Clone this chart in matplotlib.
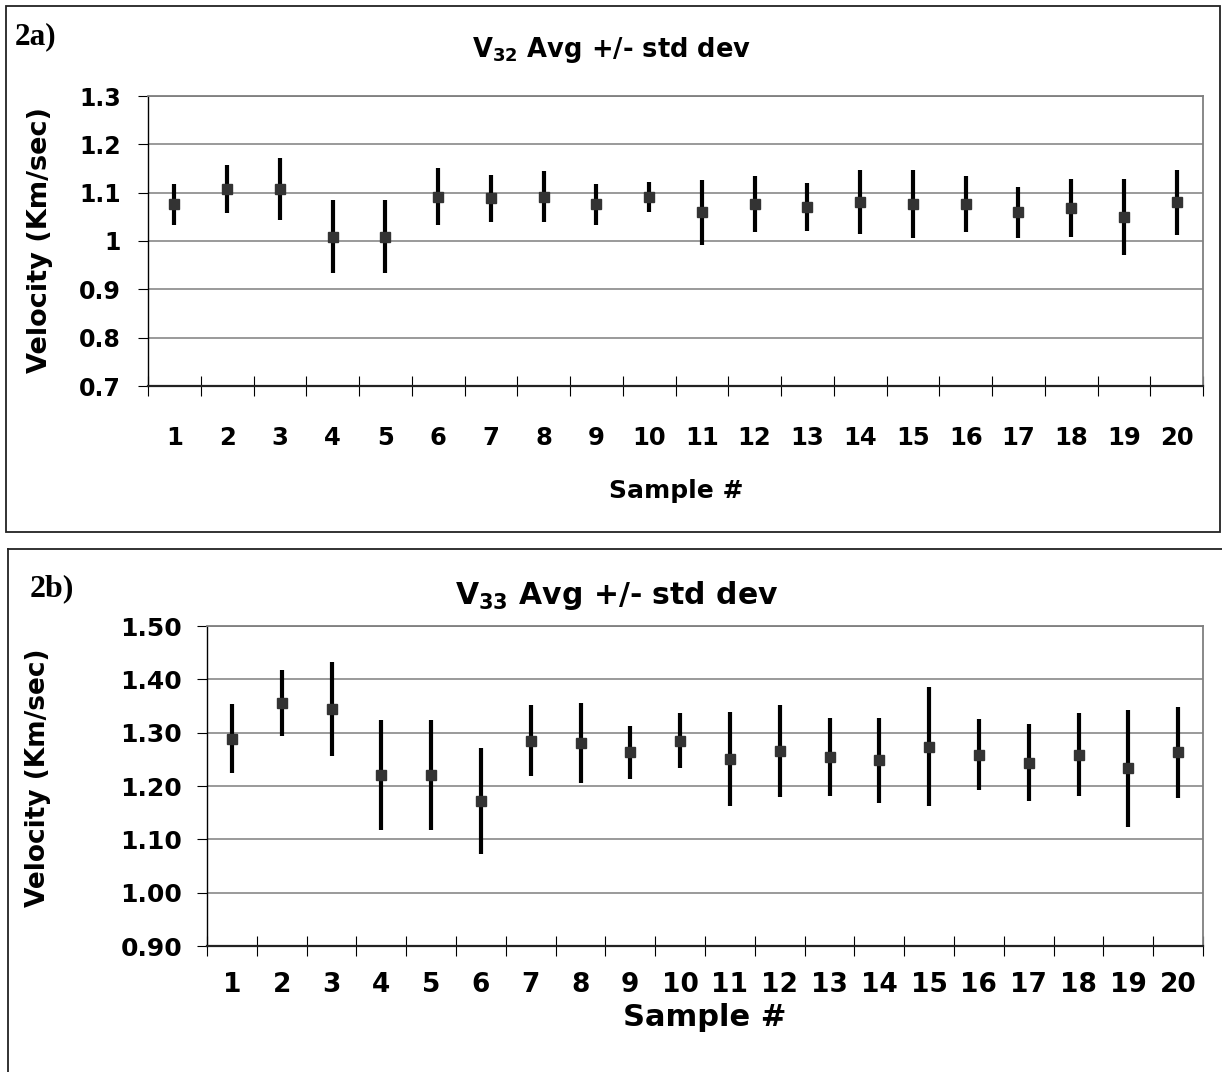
import numpy as np
import matplotlib
matplotlib.use("Agg")
import matplotlib.pyplot as plt
from matplotlib.lines import Line2D
from matplotlib.patches import Rectangle

# data
samples = list(range(1, 21))
tick_labels = [str(s) for s in samples]

v32_avg = [1.076, 1.108, 1.108, 1.009, 1.009, 1.092, 1.088, 1.092, 1.076, 1.092,
           1.059, 1.076, 1.071, 1.080, 1.076, 1.076, 1.059, 1.068, 1.050, 1.080]
v32_std = [0.042, 0.050, 0.064, 0.075, 0.075, 0.058, 0.048, 0.052, 0.042, 0.031,
           0.068, 0.058, 0.050, 0.066, 0.070, 0.058, 0.052, 0.060, 0.078, 0.067]

v33_avg = [1.289, 1.356, 1.345, 1.221, 1.221, 1.172, 1.285, 1.281, 1.263, 1.285,
           1.251, 1.266, 1.255, 1.248, 1.274, 1.259, 1.244, 1.259, 1.233, 1.263]
v33_std = [0.064, 0.062, 0.088, 0.103, 0.103, 0.099, 0.067, 0.075, 0.050, 0.051,
           0.088, 0.086, 0.073, 0.079, 0.112, 0.066, 0.073, 0.077, 0.109, 0.085]

v32_yticks = [0.7, 0.8, 0.9, 1.0, 1.1, 1.2, 1.3]
v32_ylabels = ["0.7", "0.8", "0.9", "1", "1.1", "1.2", "1.3"]
v33_yticks = [0.9, 1.0, 1.1, 1.2, 1.3, 1.4, 1.5]
v33_ylabels = ["%.2f" % v for v in v33_yticks]

plt.rcParams['font.family'] = ['DejaVu Sans']
plt.rcParams['font.weight'] = 'bold'
plt.rcParams['mathtext.default'] = 'bf'

W, H = 1222, 1072
fig = plt.figure(figsize=(W / 100, H / 100), dpi=100)


def fx(px):
    return px / W


def fy(py):
    return 1 - py / H


def panel(rect, avg, std, yticks, ylabels, ytick_fs, xtick_fs, xpad, ypad):
    l, t, r, b = rect
    ax = fig.add_axes([fx(l), fy(b), fx(r) - fx(l), fy(t) - fy(b)])
    ax.errorbar(samples, avg, yerr=std, fmt='s', color='#333333', ms=6.5,
                ecolor='black', elinewidth=3.0, capsize=0, zorder=3)
    ax.set_xlim(0.5, 20.5)
    ax.set_ylim(yticks[0], yticks[-1])
    ax.set_yticks(yticks, labels=ylabels)
    ax.set_xticks(np.arange(0.5, 21, 1), labels=[])
    ax.set_xticks(samples, labels=tick_labels, minor=True)
    ax.tick_params(axis='x', which='major', direction='inout', length=14.5,
                   width=0.8, color='black')
    ax.tick_params(axis='x', which='minor', length=0, pad=xpad,
                   labelsize=xtick_fs)
    ax.tick_params(axis='y', direction='out', length=7.5, width=0.8,
                   pad=ypad, labelsize=ytick_fs)
    ax.grid(axis='y', color='#7f7f7f', lw=1.1)
    ax.set_axisbelow(True)
    for s in ['top', 'right']:
        ax.spines[s].set_color('#7f7f7f')
        ax.spines[s].set_linewidth(1.3)
    ax.spines['left'].set_color('black')
    ax.spines['left'].set_linewidth(1.0)
    ax.spines['bottom'].set_color('#222222')
    ax.spines['bottom'].set_linewidth(1.6)
    return ax


# panel 2a
panel((148, 96, 1203, 386), v32_avg, v32_std, v32_yticks, v32_ylabels,
      17, 17.5, 28.5, 12)
fig.text(fx(612), fy(50), "V$_{32}$ Avg +/- std dev", ha='center', va='center',
         fontsize=18.5, fontweight='bold')
fig.text(fx(40), fy(240), "Velocity (Km/sec)", rotation=90, ha='center',
         va='center', fontsize=19.5, fontweight='bold')
fig.text(fx(676), fy(491), "Sample #", ha='center', va='center',
         fontsize=18, fontweight='bold')
fig.text(fx(36), fy(37), "2a)", ha='center', va='center', fontsize=22.5,
         fontweight='bold', family='Liberation Serif')
fig.add_artist(Rectangle((fx(6), fy(532)), fx(1220) - fx(6), fy(6) - fy(532),
                         transform=fig.transFigure, fill=False,
                         edgecolor='#222222', lw=1.3))

# panel 2b
panel((207, 626, 1203, 946), v33_avg, v33_std, v33_yticks, v33_ylabels,
      18, 19, 18.5, 10.5)
fig.text(fx(617), fy(595), "V$_{33}$ Avg +/- std dev", ha='center', va='center',
         fontsize=21.5, fontweight='bold')
fig.text(fx(38), fy(778), "Velocity (Km/sec)", rotation=90, ha='center',
         va='center', fontsize=19, fontweight='bold')
fig.text(fx(705), fy(1018), "Sample #", ha='center', va='center',
         fontsize=22, fontweight='bold')
fig.text(fx(52), fy(589), "2b)", ha='center', va='center', fontsize=23,
         fontweight='bold', family='Liberation Serif')
fig.add_artist(Line2D([fx(8), 1.0], [fy(549), fy(549)],
                      transform=fig.transFigure, color='#222222', lw=1.3))
fig.add_artist(Line2D([fx(8), fx(8)], [fy(549), 0.0],
                      transform=fig.transFigure, color='#222222', lw=1.3))

fig.savefig("out.png", dpi=100)
